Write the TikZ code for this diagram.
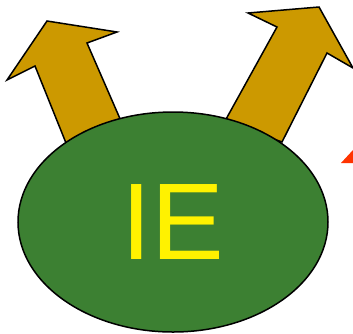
\documentclass[tikz,border=0pt]{standalone}
\usepackage{fontspec}
\setmainfont{Liberation Sans}
\usetikzlibrary{shapes.geometric}
\definecolor{leafgreen}{HTML}{3C8032}
\definecolor{gold}{HTML}{CC9900}
\definecolor{flame}{HTML}{FF3300}

\begin{document}
\begin{tikzpicture}[x=1pt,y=-1pt,
    uparrow/.style={fill=gold,draw=black,line width=1.5pt,line join=miter},
    bubble/.style={ellipse,fill=leafgreen,draw=black,line width=1.5pt,
        minimum width=310pt,minimum height=220pt,inner sep=0pt,
        text=yellow,font=\fontsize{109}{109}\selectfont}]
    \useasboundingbox (0,0) rectangle (353,333);
    % arrows behind the bubble
    \draw[uparrow] (47,21) -- (117,32) -- (87,43) -- (121,121) -- (66,143)
        -- (35,66) -- (7,80) -- cycle;
    \draw[uparrow] (319,7) -- (353,68) -- (327,53) -- (282,142) -- (225,121)
        -- (277,27) -- (248,13) -- cycle;
    % bubble
    \node[bubble] (ie) at (173,222) {IE};
    % red tip at the edge
    \fill[flame] (341,163) -- (353,150) -- (353,163) -- cycle;
\end{tikzpicture}
\end{document}
